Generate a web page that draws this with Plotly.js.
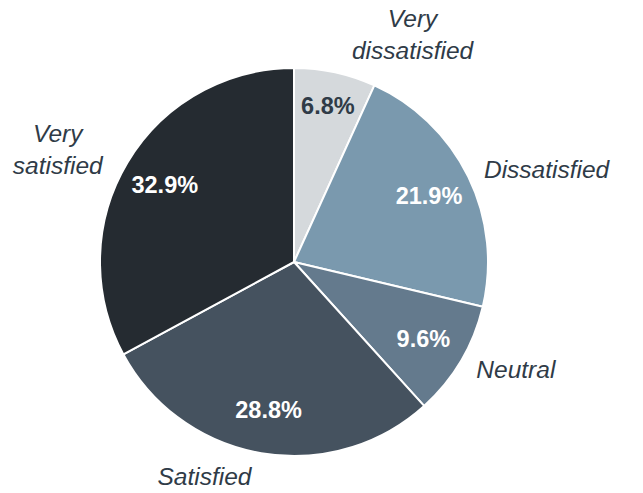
<!DOCTYPE html>
<html>
<head>
<meta charset="utf-8">
<script src="https://cdn.plot.ly/plotly-3.0.1.min.js"></script>
<style>html,body{margin:0;padding:0;background:#fff}#chart{width:643px;height:493px}</style>
</head>
<body>
<div id="chart"></div>
<script>
const categories = ["Very<br>dissatisfied", "Dissatisfied", "Neutral", "Satisfied", "Very<br>satisfied"];
const shares = [6.8, 21.9, 9.6, 28.8, 32.9];
const sliceColors = ["#d5d9dc", "#7a99ae", "#647a8d", "#45525f", "#252b31"];
const pctColors = ["#2f3b47", "#ffffff", "#ffffff", "#ffffff", "#ffffff"];

const W = 643, H = 493;
const cx = 294, cy = 262, r = 194, rLab = 204;
function dom(rad) {
  return {
    x: [(cx - rad) / W, (cx + rad) / W],
    y: [1 - (cy + rad) / H, 1 - (cy - rad) / H]
  };
}
const clear = sliceColors.map(() => "rgba(0,0,0,0)");
const common = {type: "pie", values: shares, labels: categories, sort: false,
  direction: "clockwise", rotation: 0, hoverinfo: "none", showlegend: false};

const baseTrace = Object.assign({}, common, {
  domain: dom(r),
  marker: {colors: sliceColors, line: {color: "#ffffff", width: 2}},
  textinfo: "none"
});

const pctTrace = Object.assign({}, common, {
  domain: dom(r),
  hole: 0.55,
  marker: {colors: clear, line: {width: 0}},
  texttemplate: "%{value:.1f}%",
  textposition: "inside",
  insidetextorientation: "horizontal",
  textfont: {family: "Liberation Sans, Arial, sans-serif", size: 23.5, color: pctColors, weight: "bold"}
});

const labelTrace = Object.assign({}, common, {
  domain: dom(rLab),
  marker: {colors: clear, line: {width: 0}},
  texttemplate: "<i>%{label}</i>",
  textposition: "outside",
  outsidetextfont: {family: "Liberation Sans, Arial, sans-serif", size: 24.5, color: "#2f3b47", style: "italic"},
  automargin: false
});

Plotly.newPlot("chart", [baseTrace, pctTrace, labelTrace], {
  width: W, height: H,
  margin: {l: 0, r: 0, t: 0, b: 0},
  paper_bgcolor: "#ffffff",
  showlegend: false
}, {staticPlot: true});
</script>
</body>
</html>
